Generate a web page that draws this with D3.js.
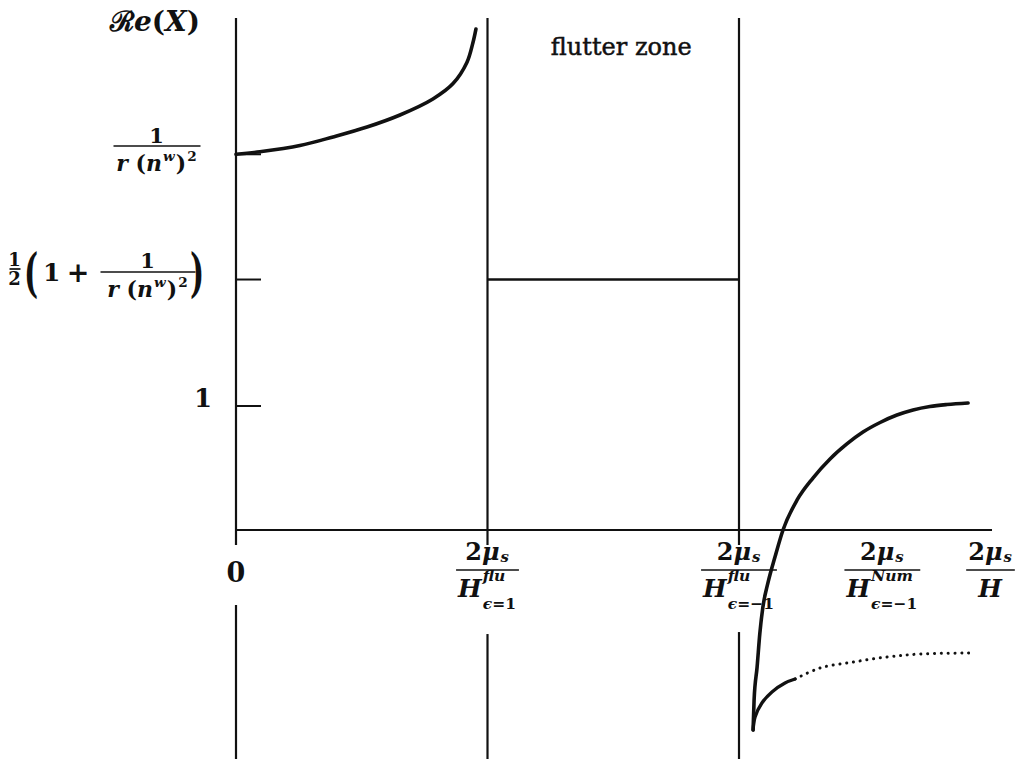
<!DOCTYPE html>
<html>
<head>
<meta charset="utf-8">
<script src="https://cdn.jsdelivr.net/npm/d3@7"></script>
<style>
  html, body { margin: 0; padding: 0; background: #fff; }
  svg { display: block; }
  text { font-family: "DejaVu Serif", serif; fill: #111; }
</style>
</head>
<body>
<svg id="chart" width="1018" height="759"></svg>
<script>
// ---- data -------------------------------------------------------------
// marked abscissae, in units of the first flutter bound 2μs/H^flu_{ϵ=1}
const xTickValues = [0, 1, 2, 2.57, 3];
// marked ordinates: 1, the mid level ½(1 + 1/(r(n^w)²)) and 1/(r(n^w)²)
const yTickValues = [1, 2.02, 3.03];
const flutterLevel = 2.02;

// Re(X) below the flutter zone (ϵ = 1 branch)
const branchLower = [[0, 3.03], [0.095, 3.05], [0.254, 3.10], [0.386, 3.17], [0.521, 3.25],
  [0.652, 3.347], [0.783, 3.476], [0.863, 3.60], [0.918, 3.77], [0.942, 3.93], [0.954, 4.04]];
// Re(X) above the flutter zone, rising towards 1
const branchUpper = [[2.056, -1.613], [2.060, -1.371], [2.072, -1.105], [2.083, -0.831],
  [2.095, -0.621], [2.115, -0.427], [2.143, -0.218], [2.175, 0], [2.231, 0.242], [2.294, 0.419],
  [2.362, 0.573], [2.429, 0.694], [2.493, 0.790], [2.561, 0.867], [2.628, 0.927], [2.692, 0.968],
  [2.759, 0.996], [2.827, 1.012], [2.911, 1.024]];
// second root, solid near the cusp then dotted
const branchNegSolid = [[2.056, -1.613], [2.064, -1.508], [2.091, -1.395], [2.131, -1.306],
  [2.183, -1.234], [2.223, -1.202]];
const branchNegDotted = [[2.223, -1.202], [2.322, -1.113], [2.453, -1.065], [2.588, -1.024],
  [2.720, -1.0], [2.915, -0.992]];

// vertical guides at 0 and at the two flutter bounds
const guideX = [0, 1, 2];
const guideTop = 4.13;
const guideAxisBottom = -0.12;
const guideLowerStart = [-0.605, -0.839, -0.823];
const guideBottom = -1.86;
const xAxisEnd = 3.006;

// tick labels: runs of [text, italic]
const I = 1, R = 0;
const num2mu = [{ run: [['2', R], ['μ', I]] }, { sub: [['s', I]] }];
const xTickLabels = [
  { plain: '0' },
  { num: num2mu, den: [{ run: [['H', I]] }, { sup: [['flu', I]], sub: [['ϵ', I], ['=1', R]] }] },
  { num: num2mu, den: [{ run: [['H', I]] }, { sup: [['flu', I]], sub: [['ϵ', I], ['=−1', R]] }] },
  { num: num2mu, den: [{ run: [['H', I]] }, { sup: [['Num', I]], sub: [['ϵ', I], ['=−1', R]] }] },
  { num: num2mu, den: [{ run: [['H', I]] }] }
];
const rn2 = [{ run: [['r', I], [' (', R], ['n', I]] }, { sup: [['w', I]] }, { run: [[')', R]] }, { sup: [['2', R]] }];
const yAxisTitle = [['ℛ', R], ['e', I], ['(', R], ['X', I], [')', R]];
const zoneLabel = 'flutter zone';

// ---- scales ------------------------------------------------------------
const x = d3.scaleLinear().domain([0, 3]).range([236, 990.5]);
const y = d3.scaleLinear().domain([0, 1]).range([530, 406]);

const svg = d3.select('#chart');
const ink = '#111';

// ---- guides and axes ----------------------------------------------------
const guides = svg.append('g').attr('stroke', ink).attr('stroke-width', 2.2);
guides.selectAll('line.up').data(guideX).join('line').attr('class', 'up')
  .attr('x1', d => x(d)).attr('x2', d => x(d))
  .attr('y1', y(guideTop)).attr('y2', y(guideAxisBottom));
guides.selectAll('line.low').data(guideX).join('line').attr('class', 'low')
  .attr('x1', d => x(d)).attr('x2', d => x(d))
  .attr('y1', (d, i) => y(guideLowerStart[i])).attr('y2', y(guideBottom));

// horizontal axis
svg.append('line').attr('stroke', ink).attr('stroke-width', 2.2)
  .attr('x1', x(0)).attr('x2', x(xAxisEnd)).attr('y1', y(0)).attr('y2', y(0));

// y ticks pointing right
svg.append('g').attr('stroke', ink).attr('stroke-width', 2)
  .selectAll('line').data(yTickValues).join('line')
  .attr('x1', x(0)).attr('x2', x(0) + 25)
  .attr('y1', d => y(d)).attr('y2', d => y(d));

// flutter-zone level
svg.append('line').attr('stroke', ink).attr('stroke-width', 2.4)
  .attr('x1', x(1)).attr('x2', x(2)).attr('y1', y(flutterLevel)).attr('y2', y(flutterLevel));

// ---- curves -------------------------------------------------------------
const smooth = d3.line().x(d => x(d[0])).y(d => y(d[1])).curve(d3.curveCatmullRom.alpha(0.5));
const mono = d3.line().x(d => x(d[0])).y(d => y(d[1])).curve(d3.curveMonotoneX);
const curves = svg.append('g').attr('fill', 'none').attr('stroke', ink)
  .attr('stroke-linecap', 'round').attr('stroke-linejoin', 'round');
curves.append('path').attr('d', smooth(branchLower)).attr('stroke-width', 3.6);
curves.append('path').attr('d', mono(branchUpper)).attr('stroke-width', 3.6);
curves.append('path').attr('d', smooth(branchNegSolid)).attr('stroke-width', 3.3);
curves.append('path').attr('d', smooth(branchNegDotted)).attr('stroke-width', 3)
  .attr('stroke-dasharray', '0.1 6.7');

// ---- math text helpers ----------------------------------------------------
function runText(g, px, py, size, run) {
  const t = g.append('text').attr('x', px).attr('y', py).attr('font-size', size);
  run.forEach(([s, it]) => t.append('tspan').attr('font-style', it ? 'italic' : 'normal').text(s));
  return t;
}
// lays out a row of tokens from x = 0 on the baseline, returns its width
function row(g, tokens, size, supY, subY) {
  let cx = 0;
  tokens.forEach(tok => {
    if (tok.run) {
      const t = runText(g, cx, 0, size, tok.run);
      cx += t.node().getComputedTextLength() + 1;
    } else {
      const ss = size * 0.62;
      let w = 0;
      if (tok.sup) {
        const t = runText(g, cx, supY, ss, tok.sup);
        w = Math.max(w, t.node().getComputedTextLength());
      }
      if (tok.sub) {
        const t = runText(g, cx, subY, ss, tok.sub);
        w = Math.max(w, t.node().getComputedTextLength());
      }
      cx += w + 1;
    }
  });
  return cx;
}
function fraction(parent, cx, barY, num, den, o) {
  const g = parent.append('g').attr('font-weight', 'bold');
  const ng = g.append('g'), dg = g.append('g');
  const wn = row(ng, num, o.numSize, -o.numSize * 0.45, o.numSubY || 3);
  const wd = row(dg, den, o.denSize, o.supY || -o.denSize * 0.45, o.subY || o.denSize * 0.45);
  const bw = o.barW || Math.max(wn, wd) + 4;
  ng.attr('transform', `translate(${cx - wn / 2},${barY - o.numGap})`);
  dg.attr('transform', `translate(${cx - wd / 2},${barY + o.denGap})`);
  g.append('line').attr('x1', cx - bw / 2).attr('x2', cx + bw / 2)
    .attr('y1', barY).attr('y2', barY).attr('stroke', ink).attr('stroke-width', 1.7);
  return g;
}

// ---- x tick labels -------------------------------------------------------
const labels = svg.append('g');
xTickValues.forEach((v, i) => {
  const lab = xTickLabels[i];
  if (lab.plain) {
    labels.append('text').attr('x', x(v)).attr('y', 582).attr('text-anchor', 'middle')
      .attr('font-size', 27).attr('font-weight', 'bold').text(lab.plain);
  } else {
    fraction(labels, x(v), 570, lab.num, lab.den,
      { numSize: 24, denSize: 25, numGap: 10, denGap: 27, numSubY: 2, supY: -16, subY: 12 });
  }
});

// ---- y tick labels -------------------------------------------------------
// 1
labels.append('text').attr('x', 212).attr('y', y(1) + 1).attr('text-anchor', 'end')
  .attr('font-size', 26).attr('font-weight', 'bold').text('1');

// 1/(r (n^w)^2)
fraction(labels, 157, 146, [{ run: [['1', R]] }], rn2,
  { numSize: 21, denSize: 22, numGap: 3, denGap: 25, barW: 87 });

// ½(1 + 1/(r (n^w)^2))
fraction(labels, 15, 269, [{ run: [['1', R]] }], [{ run: [['2', R]] }],
  { numSize: 18, denSize: 18, numGap: 3, denGap: 16, barW: 11 });
labels.append('text').attr('font-size', 30).attr('font-weight', 'bold')
  .attr('transform', 'translate(24,291) scale(1,1.75)').text('(');
labels.append('text').attr('x', 43).attr('y', 281).attr('font-size', 25).attr('font-weight', 'bold').text('1');
labels.append('text').attr('x', 78).attr('y', 282).attr('text-anchor', 'middle')
  .attr('font-size', 27).attr('font-weight', 'bold').text('+');
fraction(labels, 148, 272, [{ run: [['1', R]] }], rn2,
  { numSize: 21, denSize: 22, numGap: 4, denGap: 25, barW: 95 });
labels.append('text').attr('font-size', 30).attr('font-weight', 'bold')
  .attr('transform', 'translate(190,291) scale(1,1.75)').text(')');

// axis title
runText(labels, 110, 31, 28, yAxisTitle).attr('font-weight', 'bold');

// zone annotation
labels.append('text').attr('x', (x(1) + x(2)) / 2 + 8).attr('y', 55).attr('text-anchor', 'middle')
  .attr('font-size', 24).attr('stroke', ink).attr('stroke-width', 0.5).text(zoneLabel);
</script>
</body>
</html>
